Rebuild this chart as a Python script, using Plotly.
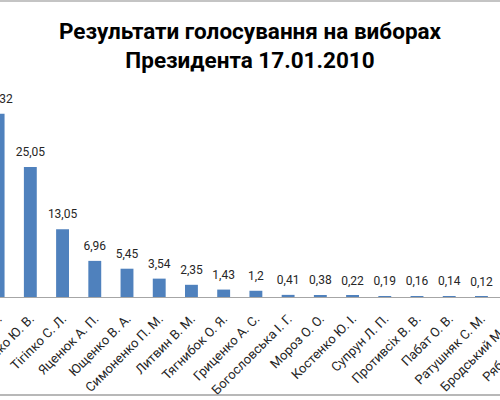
import plotly.graph_objects as go

# Результати голосування, 17.01.2010 (%)
candidates = [
    'Янукович В. Ф.', 'Тимошенко Ю. В.', 'Тігіпко С. Л.', 'Яценюк А. П.',
    'Ющенко В. А.', 'Симоненко П. М.', 'Литвин В. М.', 'Тягнибок О. Я.',
    'Гриценко А. С.', 'Богословська І. Г.', 'Мороз О. О.', 'Костенко Ю. І.',
    'Супрун Л. П.', 'Противсіх В. В.', 'Пабат О. В.', 'Ратушняк С. М.',
    'Бродський М. Ю.', 'Рябоконь В. О.',
]
votes = [35.32, 25.05, 13.05, 6.96, 5.45, 3.54, 2.35, 1.43, 1.2, 0.41,
         0.38, 0.22, 0.19, 0.16, 0.14, 0.12, 0.06, 0.03]

labels = [f'{v:g}'.replace('.', ',') for v in votes]

font = 'Roboto, Open Sans, sans-serif'

# the original chart is wider than the 500px window: it is cropped on the left
W, H = 580, 400
SHIFT = 18          # px hidden on the left
T, B = 100, 103     # top / bottom margins
plot_h = H - T - B

fig = go.Figure()
fig.add_trace(go.Bar(
    x=candidates, y=votes,
    marker=dict(color='#4f81bd', line=dict(width=0)),
    width=0.4, hoverinfo='x+y',
))
# value labels, set a little above the bars
fig.add_trace(go.Scatter(
    x=candidates, y=votes, text=labels, mode='markers+text',
    textposition='top center', cliponaxis=False,
    marker=dict(size=11, opacity=0),
    textfont=dict(size=12, color='#262626', family=font),
    hoverinfo='skip',
))

fig.update_layout(
    width=W, height=H,
    margin=dict(l=0, r=0, t=T, b=B, autoexpand=False),
    paper_bgcolor='white', plot_bgcolor='white',
    showlegend=False,
    title=dict(
        text='Результати голосування на виборах<br>Президента 17.01.2010',
        x=(250 + SHIFT) / W, xanchor='center', y=0.902, yanchor='top',
        font=dict(size=22.5, family=font, color='black', weight='bold'),
    ),
    shapes=[
        dict(type='line', xref='paper', yref='paper', x0=0, x1=1,
             y0=1 + (T - 1) / plot_h, y1=1 + (T - 1) / plot_h,
             line=dict(color='#b0b0b0', width=1.5)),
        dict(type='line', xref='paper', yref='paper', x0=0, x1=1,
             y0=-(B - 5) / plot_h, y1=-(B - 5) / plot_h,
             line=dict(color='#a0a0a0', width=1.5)),
    ],
)
fig.update_xaxes(
    range=[-0.5, len(candidates) - 0.5], automargin=False,
    showline=True, linecolor='#a6a6a6', linewidth=1,
    tickangle=-45, ticks='', showgrid=False, ticklabelstandoff=8,
    tickfont=dict(size=13, color='#262626', family=font),
)
fig.update_yaxes(range=[0, plot_h / 5.19], visible=False, showgrid=False,
                 automargin=False)

crop = (
    "document.body.style.margin='0';"
    "var gd=document.getElementById('{plot_id}');"
    "gd.parentElement.style.cssText='width:500px;height:400px;overflow:hidden';"
    "gd.style.marginLeft='-%dpx';" % SHIFT
)
fig.write_html('out.html', post_script=crop,
               config={'displayModeBar': False})
